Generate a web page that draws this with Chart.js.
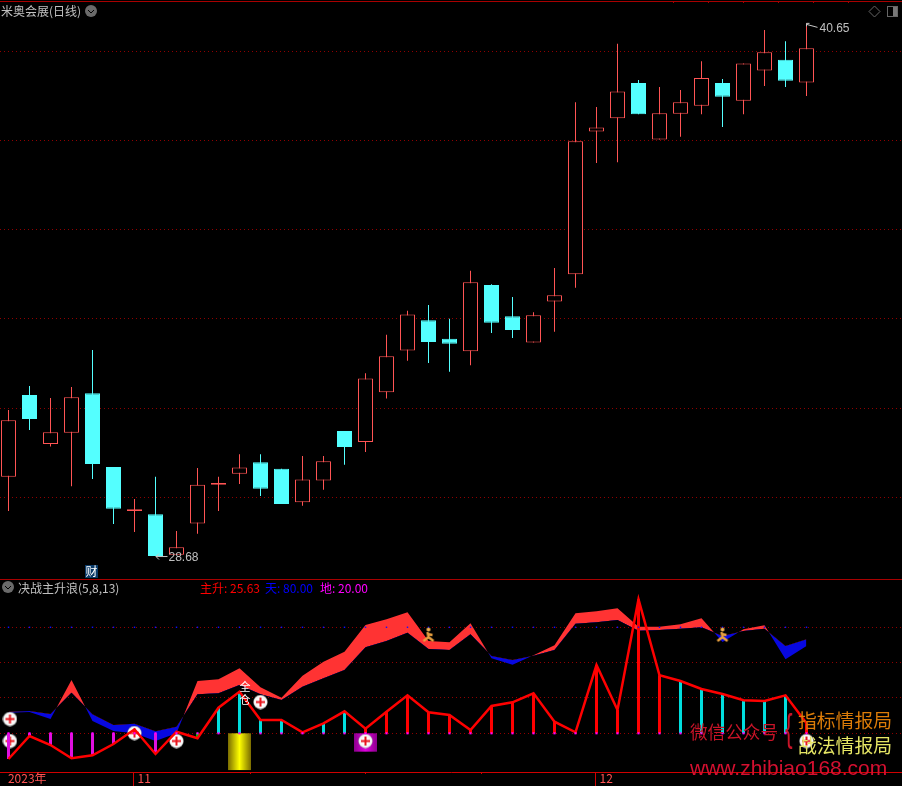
<!DOCTYPE html>
<html>
<head>
<meta charset="utf-8">
<title>米奥会展(日线)</title>
<script src="https://cdn.jsdelivr.net/npm/chart.js@4"></script>
<style>
  html, body { margin: 0; padding: 0; background: #000; overflow: hidden; }
  canvas { position: absolute; left: 0; display: block; }
  #priceChart { top: 0; }
  #waveChart { top: 579px; }
</style>
</head>
<body>
<canvas id="priceChart" width="902" height="579"></canvas>
<canvas id="waveChart" width="902" height="207"></canvas>
<script>
// K-line values, one entry per trading day
const openPrice = [30.46, 32.30, 31.20, 31.45, 32.34, 30.68, 29.69, 29.62, 28.71, 29.41, 30.28, 30.53, 30.79, 30.64, 29.89, 30.38, 31.49, 31.24, 32.36, 33.30, 33.98, 33.56, 33.28, 34.77, 34.07, 33.48, 34.40, 35.01, 38.22, 38.52, 39.31, 38.04, 38.62, 38.80, 39.31, 38.91, 39.59, 39.83, 39.32];
const closePrice = [31.73, 31.76, 31.46, 32.25, 30.75, 29.74, 29.73, 28.68, 28.88, 30.28, 30.32, 30.67, 30.19, 29.85, 30.40, 30.81, 31.13, 32.67, 33.17, 34.11, 33.49, 33.45, 34.83, 33.92, 33.76, 34.09, 34.54, 38.00, 38.31, 39.12, 38.61, 38.63, 38.88, 39.42, 39.00, 39.75, 40.00, 39.36, 40.09];
const highPrice = [31.96, 32.50, 32.23, 32.48, 33.31, 30.68, 29.96, 30.46, 29.24, 30.66, 30.46, 30.97, 30.97, 30.64, 30.93, 30.93, 31.49, 32.79, 33.65, 34.19, 34.32, 34.01, 35.09, 34.79, 34.50, 34.16, 35.15, 38.88, 38.77, 40.19, 39.38, 39.22, 39.15, 39.80, 39.40, 39.75, 40.50, 40.25, 40.65];
const lowPrice = [29.69, 31.51, 31.14, 30.25, 30.41, 29.40, 29.22, 28.68, 28.71, 29.18, 29.69, 30.30, 30.03, 29.85, 29.81, 30.17, 30.73, 31.02, 32.22, 33.07, 33.02, 32.82, 32.97, 33.69, 33.58, 33.48, 33.72, 34.71, 37.51, 37.53, 38.61, 38.04, 38.10, 38.61, 38.32, 38.61, 39.24, 39.22, 39.02];
const priceGrid = [30, 32, 34.01, 36.02, 38.02, 40.02];
const priceHighLabel = { index: 38, value: 40.65 };
const priceLowLabel = { index: 7, value: 28.68 };

// 决战主升浪 indicator
const waveValues = [5.46, 18.47, 13.38, 5.85, 7.55, 13.94, 22.26, 8.29, 20.90, 17.17, 34.49, 43.54, 27.53, 27.53, 20.57, 25.66, 32.45, 22.60, 32.22, 41.50, 31.88, 30.36, 21.87, 35.45, 37.54, 42.64, 26.56, 20.57, 58.65, 33.19, 95.83, 52.82, 49.60, 45.07, 42.24, 38.68, 38.28, 41.50, 25.63];
const waveKinds = ['m', 'm', 'm', 'm', 'm', 'm', 'r', 'm', 'r', 'g', 'c', 'c', 'c', 'c', 'c', 'c', 'c', 'r', 'r', 'r', 'r', 'r', 'r', 'r', 'r', 'r', 'r', 'r', 'r', 'r', 'r', 'r', 'c', 'c', 'c', 'c', 'c', 'c', 'r'];
const ribbonFast = [31.68, 32.05, 28.09, 50.17, 26.96, 21.30, 19.98, 15.64, 19.98, 49.60, 50.54, 56.77, 46.02, 40.17, 52.62, 60.54, 66.20, 81.29, 84.50, 88.46, 72.24, 71.48, 82.24, 62.43, 58.84, 64.13, 69.79, 87.90, 89.03, 90.73, 80.35, 80.35, 81.67, 85.07, 71.67, 78.84, 81.10, 61.86, 69.41];
const ribbonSlow = [32.24, 32.62, 30.92, 43.00, 30.73, 24.70, 25.45, 21.11, 23.75, 42.05, 42.62, 47.34, 42.05, 38.85, 46.39, 51.11, 55.83, 68.65, 72.24, 76.95, 67.71, 67.14, 76.01, 63.75, 61.49, 63.94, 67.14, 82.05, 82.80, 84.12, 78.09, 78.46, 79.22, 79.97, 75.07, 77.90, 79.22, 69.41, 73.18];
const skyLine = [80, 80, 80, 80, 80, 80, 80, 80, 80, 80, 80, 80, 80, 80, 80, 80, 80, 80, 80, 80, 80, 80, 80, 80, 80, 80, 80, 80, 80, 80, 80, 80, 80, 80, 80, 80, 80, 80, 80];
const groundLine = [20, 20, 20, 20, 20, 20, 20, 20, 20, 20, 20, 20, 20, 20, 20, 20, 20, 20, 20, 20, 20, 20, 20, 20, 20, 20, 20, 20, 20, 20, 20, 20, 20, 20, 20, 20, 20, 20, 20];
const waveGrid = [20, 40, 60, 80];
const legendNames = ['主升', '天', '地'];
const legendValues = ['25.63', '80.00', '20.00'];

// signal markers on the indicator panel
const plusIndex = [0.07, 0.07, 6, 8, 12, 17, 38];
const plusValue = [28.09, 15.64, 20.17, 15.64, 37.71, 15.64, 15.64];
const runnerIndex = [20, 34];
const runnerValue = [75.6, 75.6];
const goldBar = { index: 11, from: 20, to: -0.8 };
const purpleBar = { index: 17, from: 20, to: 9.6 };

// time axis
const monthTickPos = [-0.17, 6, 28];
const monthTickText = ['2023年', '11', '12'];
const minorTickPos = [11.48, 17, 22.5];

const indexes = openPrice.map((_, i) => i);
const xMin = -8.5 / 21;
const xMax = (902 - 8.5) / 21;

const RED = '#ff5454';
const CYAN = '#54ffff';
const LINE_RED = '#ff0000';
const DARK_RED = '#a80000';
const GRID_RED = '#900000';
const GRAY = '#c0c0c0';
const CJK = '"Noto Sans CJK SC"';
const LATIN = '"Liberation Sans"';
const kindColors = { m: '#e010e0', r: '#ff0000', c: '#00dede', g: '#00c000' };

function text(ctx, str, x, y, color, font, maxWidth) {
  ctx.font = font;
  ctx.fillStyle = color;
  ctx.textAlign = 'left';
  ctx.textBaseline = 'middle';
  if (maxWidth) ctx.fillText(str, x, y, maxWidth);
  else ctx.fillText(str, x, y);
}

function dropdownIcon(ctx, x, y) {
  ctx.fillStyle = '#6a6a6a';
  ctx.beginPath();
  ctx.arc(x, y, 6, 0, Math.PI * 2);
  ctx.fill();
  ctx.strokeStyle = '#000';
  ctx.lineWidth = 1;
  ctx.beginPath();
  ctx.moveTo(x - 3, y - 1);
  ctx.lineTo(x, y + 2);
  ctx.lineTo(x + 3, y - 1);
  ctx.stroke();
}

function makePlusIcon() {
  const c = document.createElement('canvas');
  c.width = 15;
  c.height = 15;
  const g = c.getContext('2d');
  const grad = g.createRadialGradient(7.5, 7.5, 3, 7.5, 7.5, 7.5);
  grad.addColorStop(0, '#ffffff');
  grad.addColorStop(0.7, '#f4f4f4');
  grad.addColorStop(1, '#8a8a8a');
  g.fillStyle = grad;
  g.beginPath();
  g.arc(7.5, 7.5, 7.2, 0, Math.PI * 2);
  g.fill();
  g.fillStyle = '#e8141c';
  g.fillRect(3, 6.5, 9, 2);
  g.fillRect(6.5, 3, 2, 9);
  return c;
}

function makeRunnerIcon() {
  const c = document.createElement('canvas');
  c.width = 14;
  c.height = 16;
  const g = c.getContext('2d');
  g.fillStyle = '#f0b050';
  g.beginPath();
  g.arc(7, 2.5, 2, 0, Math.PI * 2);
  g.fill();
  g.strokeStyle = '#e8a040';
  g.lineWidth = 2.4;
  g.beginPath();
  g.moveTo(6, 5);
  g.lineTo(7, 10);
  g.lineTo(2, 14);
  g.moveTo(7, 10);
  g.lineTo(12, 14);
  g.moveTo(6, 7);
  g.lineTo(11, 8);
  g.stroke();
  return c;
}

const priceOverlay = {
  id: 'priceOverlay',
  afterDraw(chart) {
    const ctx = chart.ctx;
    const x = chart.scales.x;
    const y = chart.scales.y;
    ctx.save();

    // frame and ruler on top
    ctx.fillStyle = DARK_RED;
    ctx.fillRect(0, 1, 902, 1);
    [673, 708, 743, 778, 813, 848].forEach(px => ctx.fillRect(px, 1, 1, 2));

    text(ctx, '米奥会展(日线)', 1, 11, GRAY, '12px ' + CJK, 80);
    dropdownIcon(ctx, 91, 11);

    // diamond + panel icons, top right
    ctx.strokeStyle = '#666';
    ctx.lineWidth = 1;
    ctx.beginPath();
    ctx.moveTo(874.5, 6);
    ctx.lineTo(880, 11.5);
    ctx.lineTo(874.5, 17);
    ctx.lineTo(869, 11.5);
    ctx.closePath();
    ctx.stroke();
    ctx.strokeRect(887.5, 6.5, 10, 10);
    ctx.fillStyle = '#777';
    ctx.fillRect(893, 7, 4, 9);

    // high and low labels
    ctx.strokeStyle = '#c8c8c8';
    const hx = x.getPixelForValue(priceHighLabel.index);
    const hy = y.getPixelForValue(priceHighLabel.value);
    ctx.beginPath();
    ctx.moveTo(hx, hy + 3);
    ctx.lineTo(hx, hy);
    ctx.lineTo(hx + 3, hy);
    ctx.moveTo(hx, hy + 1);
    ctx.lineTo(hx + 11, hy + 4);
    ctx.stroke();
    text(ctx, priceHighLabel.value.toFixed(2), hx + 13, hy + 5, GRAY, '12px ' + LATIN);

    const lx = x.getPixelForValue(priceLowLabel.index);
    const ly = y.getPixelForValue(priceLowLabel.value);
    ctx.beginPath();
    ctx.moveTo(lx + 0.5, ly + 0.5);
    ctx.lineTo(lx + 12, ly + 0.5);
    ctx.moveTo(lx + 0.5, ly + 0.5);
    ctx.lineTo(lx + 3.5, ly - 2.5);
    ctx.moveTo(lx + 0.5, ly + 0.5);
    ctx.lineTo(lx + 3.5, ly + 3.5);
    ctx.stroke();
    text(ctx, priceLowLabel.value.toFixed(2), lx + 13, ly + 2, GRAY, '12px ' + LATIN);

    // 财 badge
    ctx.fillStyle = '#0a3a68';
    ctx.fillRect(85, 565, 13, 13);
    text(ctx, '财', 85.5, 571.5, '#ffffff', '12px ' + CJK);
    ctx.restore();
  }
};

const waveOverlay = {
  id: 'waveOverlay',
  afterDraw(chart) {
    const ctx = chart.ctx;
    const x = chart.scales.x;
    const y = chart.scales.y;
    ctx.save();

    ctx.fillStyle = DARK_RED;
    ctx.fillRect(0, 0, 902, 1);

    dropdownIcon(ctx, 8, 8);
    text(ctx, '决战主升浪(5,8,13)', 18, 9, GRAY, '12px ' + CJK, 102);
    const legendX = [200, 265, 320];
    const legendW = [61, 49, 48];
    const legendC = ['#ff0000', '#0000ff', '#ff00ff'];
    legendNames.forEach((name, i) => {
      text(ctx, name + ': ' + legendValues[i], legendX[i], 9, legendC[i], '12px ' + CJK, legendW[i]);
    });

    // time axis tick marks
    ctx.fillStyle = '#d00000';
    minorTickPos.forEach(v => ctx.fillRect(Math.round(x.getPixelForValue(v)), 193, 1, 2));
    [monthTickPos[1], monthTickPos[2]].forEach(v => ctx.fillRect(Math.floor(x.getPixelForValue(v)) - 1, 193, 1, 14));

    // vertical signal text next to the big cyan bar
    const sx = x.getPixelForValue(11) + 6;
    text(ctx, '全', sx - 6, y.getPixelForValue(43.5) - 5, '#ffffff', '11px ' + CJK);
    text(ctx, '仓', sx - 6, y.getPixelForValue(43.5) + 8, '#ffffff', '11px ' + CJK);

    // watermark
    const top = -579;
    text(ctx, '微信公众号', 690, 732.5 + top, '#c81428', '18px ' + CJK, 88);
    ctx.font = '38px ' + LATIN;
    ctx.fillStyle = '#c81428';
    ctx.save();
    ctx.translate(785, 730.5 + top);
    ctx.scale(0.6, 1);
    ctx.textBaseline = 'middle';
    ctx.fillText('{', 0, 0);
    ctx.restore();
    text(ctx, '指标情报局', 798, 721 + top, '#dc7c08', '19px ' + CJK, 94);
    text(ctx, '战法情报局', 798, 746 + top, '#e6e664', '19px ' + CJK, 94);
    text(ctx, 'www.zhibiao168.com', 690, 769.5 + top, '#d41030', '21px ' + LATIN, 198);
    ctx.restore();
  }
};

const commonX = { type: 'linear', min: xMin, max: xMax, offset: false, grid: { display: false } };

function yAxis(min, max, grid) {
  return {
    min: min,
    max: max,
    afterBuildTicks: axis => { axis.ticks = grid.map(v => ({ value: v })); },
    ticks: { display: false },
    grid: { color: GRID_RED, lineWidth: 1, drawTicks: false },
    border: { display: false, dash: [1, 3] }
  };
}

new Chart(document.getElementById('priceChart'), {
  type: 'bar',
  data: {
    datasets: [
      {
        label: '影线',
        order: 2,
        barThickness: 1,
        inflateAmount: 0,
        borderWidth: 0,
        backgroundColor: indexes.map(i => closePrice[i] >= openPrice[i] ? RED : CYAN),
        data: indexes.map(i => ({ x: i, y: [lowPrice[i], highPrice[i]] }))
      },
      {
        label: 'K线',
        order: 1,
        barThickness: 15,
        inflateAmount: 0,
        borderWidth: 1,
        borderSkipped: false,
        borderColor: indexes.map(i => closePrice[i] >= openPrice[i] ? RED : CYAN),
        backgroundColor: indexes.map(i => closePrice[i] >= openPrice[i] ? '#000000' : CYAN),
        data: indexes.map(i => ({ x: i, y: [openPrice[i], closePrice[i]] }))
      }
    ]
  },
  options: {
    responsive: false,
    animation: false,
    devicePixelRatio: 1,
    grouped: false,
    layout: { padding: 0, autoPadding: false },
    plugins: { legend: { display: false }, tooltip: { enabled: false } },
    scales: {
      x: Object.assign({ display: false }, commonX),
      y: yAxis(28.164, 41.175, priceGrid)
    }
  },
  plugins: [priceOverlay]
});

const plusIcon = makePlusIcon();
const runnerIcon = makeRunnerIcon();

function hGradient(chart, index, half, edge, middle) {
  const cx = chart.scales.x.getPixelForValue(index);
  if (!Number.isFinite(cx)) return edge;
  const g = chart.ctx.createLinearGradient(cx - half, 0, cx + half, 0);
  g.addColorStop(0, edge);
  g.addColorStop(0.5, middle);
  g.addColorStop(1, edge);
  return g;
}

new Chart(document.getElementById('waveChart'), {
  type: 'bar',
  data: {
    datasets: [
      {
        type: 'line',
        label: '快线',
        order: 9,
        borderWidth: 0,
        pointRadius: 0,
        tension: 0,
        fill: { target: '+1', above: '#ff3333', below: '#0808e0' },
        data: indexes.map(i => ({ x: i, y: ribbonFast[i] }))
      },
      {
        type: 'line',
        label: '慢线',
        order: 9,
        borderWidth: 0,
        pointRadius: 0,
        tension: 0,
        fill: false,
        data: indexes.map(i => ({ x: i, y: ribbonSlow[i] }))
      },
      {
        label: '金柱',
        order: 8,
        barThickness: 23,
        inflateAmount: 0,
        borderWidth: 0,
        backgroundColor: c => hGradient(c.chart, goldBar.index, 11.5, '#7a6c00', '#ffff00'),
        data: [{ x: goldBar.index, y: [goldBar.to, goldBar.from] }]
      },
      {
        label: '紫柱',
        order: 8,
        barThickness: 23,
        inflateAmount: 0,
        borderWidth: 0,
        backgroundColor: c => hGradient(c.chart, purpleBar.index, 11.5, '#8c008c', '#e000e0'),
        data: [{ x: purpleBar.index, y: [purpleBar.to, purpleBar.from] }]
      },
      {
        type: 'line',
        label: '信号',
        order: 7,
        showLine: false,
        pointStyle: plusIcon,
        pointRadius: 7,
        data: plusIndex.map((v, i) => ({ x: v, y: plusValue[i] }))
      },
      {
        type: 'line',
        label: '小人',
        order: 2,
        showLine: false,
        pointStyle: runnerIcon,
        pointRadius: 7,
        data: runnerIndex.map((v, i) => ({ x: v, y: runnerValue[i] }))
      },
      {
        label: '主升柱',
        order: 5,
        barThickness: 3,
        inflateAmount: 0,
        borderWidth: 0,
        backgroundColor: waveKinds.map(k => kindColors[k]),
        data: indexes.map(i => ({ x: i, y: [groundLine[i], waveValues[i]] }))
      },
      {
        type: 'line',
        label: '主升',
        order: 4,
        borderColor: LINE_RED,
        borderWidth: 2.5,
        pointRadius: 0,
        tension: 0,
        fill: false,
        data: indexes.map(i => ({ x: i, y: waveValues[i] }))
      },
      {
        type: 'line',
        label: '天',
        order: 3,
        showLine: false,
        pointStyle: 'rect',
        pointRadius: 1,
        pointBackgroundColor: '#1010ff',
        pointBorderWidth: 0,
        data: indexes.map(i => ({ x: i, y: skyLine[i] }))
      },
      {
        type: 'line',
        label: '地',
        order: 3,
        showLine: false,
        pointStyle: 'rect',
        pointRadius: 1.5,
        pointBackgroundColor: '#ff00ff',
        pointBorderWidth: 0,
        data: indexes.map(i => ({ x: i, y: groundLine[i] }))
      }
    ]
  },
  options: {
    responsive: false,
    animation: false,
    devicePixelRatio: 1,
    grouped: false,
    layout: { padding: 0, autoPadding: false },
    plugins: { legend: { display: false }, tooltip: { enabled: false } },
    scales: {
      x: Object.assign({}, commonX, {
        afterBuildTicks: axis => { axis.ticks = monthTickPos.map(v => ({ value: v })); },
        afterFit: axis => { axis.height = 14; axis.paddingLeft = 0; axis.paddingRight = 0; },
        border: { display: true, color: '#d00000', width: 1 },
        grid: { display: true, drawOnChartArea: false, drawTicks: false },
        ticks: {
          color: '#ff5454',
          font: { family: 'Noto Sans CJK SC', size: 12 },
          padding: -1,
          align: 'start',
          labelOffset: 3,
          maxRotation: 0,
          autoSkip: false,
          callback: (value, i) => monthTickText[i]
        }
      }),
      y: yAxis(-1.90, 107.32, waveGrid)
    }
  },
  plugins: [waveOverlay]
});
</script>
</body>
</html>
